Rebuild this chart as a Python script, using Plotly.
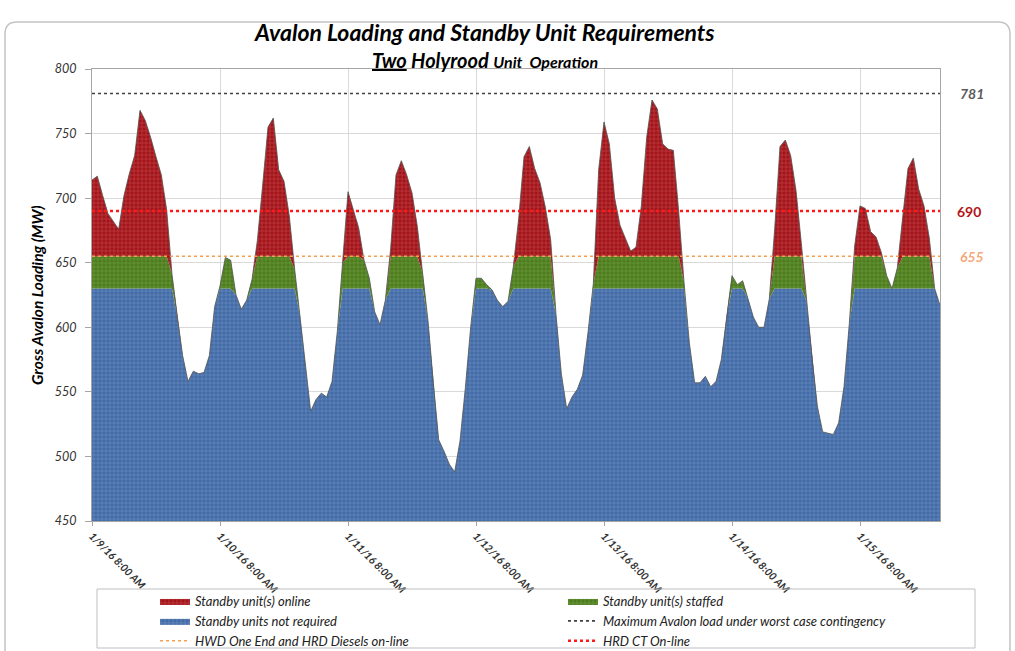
import pandas as pd
import plotly.graph_objects as go

# ---------------- data ----------------
start_time = "2016-01-09 08:00"
load_mw = [
    714, 717, 702, 688, 682, 676, 702, 719, 733, 768, 760, 747, 732, 718, 691, 641,
    608, 578, 558, 566, 564, 565, 578, 616, 632, 654, 652, 625, 614, 621, 637, 667,
    710, 755, 762, 722, 713, 686, 645, 609, 570, 535, 544, 549, 546, 558, 597, 650,
    705, 691, 677, 652, 638, 612, 602, 621, 661, 718, 729, 718, 704, 678, 642, 605,
    557, 513, 504, 494, 488, 512, 553, 600, 638, 638, 633, 629, 621, 616, 620, 647,
    684, 732, 740, 723, 712, 693, 668, 610, 564, 537, 546, 552, 563, 596, 634, 722,
    759, 742, 700, 679, 669, 659, 662, 694, 747, 776, 769, 742, 738, 737, 690, 635,
    588, 557, 557, 562, 554, 558, 575, 609, 640, 633, 636, 622, 608, 600, 600, 622,
    676, 740, 745, 733, 706, 665, 620, 577, 539, 519, 518, 517, 526, 554, 603, 663,
    694, 692, 674, 670, 658, 640, 630, 646, 685, 723, 731, 707, 694, 669, 630, 617,
]
not_required_limit = 630   # top of "standby units not required"
staffed_limit = 655        # top of "standby unit(s) staffed"
max_worst_case = 781
hrd_ct_online = 690
hwd_diesels_online = 655
y_ticks = [450, 500, 550, 600, 650, 700, 750, 800]

series_names = {
    "online": "Standby unit(s) online",
    "staffed": "Standby unit(s) staffed",
    "notreq": "Standby units not required",
    "max": "Maximum Avalon load under worst case contingency",
    "hwd": "HWD One End and HRD Diesels on-line",
    "hrd": "HRD CT On-line",
}

times = pd.date_range(start_time, periods=len(load_mw), freq="h")
blue_part = [min(v, not_required_limit) for v in load_mw]
green_part = [min(max(v - not_required_limit, 0), staffed_limit - not_required_limit) for v in load_mw]
red_part = [max(v - staffed_limit, 0) for v in load_mw]

# ---------------- layout helpers ----------------
W, H = 1015, 651
L, R, T, B = 92, 75, 69, 130
PW, PH = W - L - R, H - T - B


def px(xp):
    return (xp - L) / PW


def py(yp):
    return (H - B - yp) / PH


FONT = "Lato"
LEG_FONT = dict(family=FONT, size=13, style="italic", color="#222222")

fig = go.Figure()

fig.add_trace(go.Scatter(
    x=times, y=blue_part, stackgroup="load", mode="lines", line=dict(width=0),
    fillcolor="#4670aa",
    fillpattern=dict(shape="+", bgcolor="#436ba5", fgcolor="#8eabda", size=4, solidity=0.3),
    name=series_names["notreq"], legend="legend", legendrank=2, hoverinfo="skip",
))
fig.add_trace(go.Scatter(
    x=times, y=green_part, stackgroup="load", mode="lines", line=dict(width=0),
    fillcolor="#527f22",
    fillpattern=dict(shape="+", bgcolor="#4d7c1e", fgcolor="#8cb35a", size=4, solidity=0.3),
    name=series_names["staffed"], legend="legend2", legendrank=1, hoverinfo="skip",
))
fig.add_trace(go.Scatter(
    x=times, y=red_part, stackgroup="load", mode="lines", line=dict(width=0),
    fillcolor="#a8171c",
    fillpattern=dict(shape="+", bgcolor="#a3141a", fgcolor="#d86c6c", size=4, solidity=0.3),
    name=series_names["online"], legend="legend", legendrank=1, hoverinfo="skip",
))
fig.add_trace(go.Scatter(
    x=times, y=load_mw, mode="lines", line=dict(color="#505050", width=0.8),
    showlegend=False, hoverinfo="skip",
))
fig.add_trace(go.Scatter(
    x=[times[0], times[-1]], y=[max_worst_case] * 2, mode="lines",
    line=dict(color="#404040", width=1.6, dash="dot"),
    name=series_names["max"], legend="legend2", legendrank=2,
))
fig.add_trace(go.Scatter(
    x=[times[0], times[-1]], y=[hwd_diesels_online] * 2, mode="lines",
    line=dict(color="#f5a050", width=1.6, dash="dot"),
    name=series_names["hwd"], legend="legend", legendrank=3,
))
fig.add_trace(go.Scatter(
    x=[times[0], times[-1]], y=[hrd_ct_online] * 2, mode="lines",
    line=dict(color="#ff1a1a", width=2.4, dash="dot"),
    name=series_names["hrd"], legend="legend2", legendrank=3,
))

ann_common = dict(xref="paper", showarrow=False, xanchor="center", yanchor="middle")
annotations = [
    dict(text="<b><i>Avalon Loading and Standby Unit Requirements</i></b>",
         x=px(484), y=py(32), yref="paper",
         font=dict(family=FONT, size=23, color="#000000"), **ann_common),
    dict(text="<b><i><u>Two</u> Holyrood <span style='font-size:16px'>Unit  Operation</span></i></b>",
         x=px(485), y=py(60), yref="paper",
         font=dict(family=FONT, size=20, color="#000000"), **ann_common),
    dict(text="<b><i>Gross Avalon Loading (MW)</i></b>", textangle=-90,
         x=px(37), y=0.5, yref="paper",
         font=dict(family=FONT, size=15.5, color="#000000"), **ann_common),
    dict(text="<b><i>%d</i></b>" % max_worst_case, x=px(972), y=max_worst_case, yref="y",
         font=dict(family=FONT, size=14, color="#5a5a5a"), **ann_common),
    dict(text="<b>%d</b>" % hrd_ct_online, x=px(969), y=hrd_ct_online, yref="y",
         font=dict(family=FONT, size=14, color="#b5121b"), **ann_common),
    dict(text="<b><i>%d</i></b>" % hwd_diesels_online, x=px(972), y=hwd_diesels_online, yref="y",
         font=dict(family=FONT, size=14, color="#f4a77a"), **ann_common),
]


def rounded_border():
    r = 12
    x0, x1, y0, y1 = 5, 1010, 22, 680
    return (f"M {px(x0)},{py(y1)} L {px(x0)},{py(y0 + r)} "
            f"Q {px(x0)},{py(y0)} {px(x0 + r)},{py(y0)} "
            f"L {px(x1 - r)},{py(y0)} Q {px(x1)},{py(y0)} {px(x1)},{py(y0 + r)} "
            f"L {px(x1)},{py(y1)}")


shapes = [
    dict(type="path", path=rounded_border(), xref="paper", yref="paper",
         line=dict(color="#c4c4c4", width=1.5)),
    dict(type="rect", x0=px(97), x1=px(975), y0=py(648), y1=py(589),
         xref="paper", yref="paper", line=dict(color="#bfbfbf", width=1)),
]

legend_common = dict(
    orientation="v", xanchor="left", yanchor="top", traceorder="normal",
    font=LEG_FONT, bgcolor="rgba(0,0,0,0)", borderwidth=0, tracegroupgap=0,
)

fig.update_layout(
    width=W, height=H,
    margin=dict(l=L, r=R, t=T, b=B, autoexpand=False),
    paper_bgcolor="white", plot_bgcolor="white",
    font=dict(family=FONT, size=12, color="#222222"),
    annotations=annotations, shapes=shapes,
    showlegend=True,
    legend=dict(x=px(155), y=py(586), **legend_common),
    legend2=dict(x=px(563), y=py(586), **legend_common),
    hovermode=False,
)

fig.update_xaxes(
    type="date", range=[times[0], times[-1]],
    tick0=times[0], dtick=86400000, tickformat="%-m/%-d/%y %-I:%M %p",
    tickangle=45, ticks="outside", ticklen=4, tickcolor="#a6a6a6",
    tickfont=dict(family=FONT, size=10.5, color="#333333", style="italic", weight="bold"),
    showgrid=True, gridcolor="#d9d9d9", gridwidth=1,
    showline=True, linecolor="#a6a6a6", linewidth=1, mirror=True,
    zeroline=False, automargin=False,
)
fig.update_yaxes(
    range=[450, 800], tickvals=y_ticks,
    ticks="outside", ticklen=6, tickcolor="#a6a6a6", ticklabelstandoff=6,
    tickfont=dict(family=FONT, size=12.5, color="#333333", style="italic"),
    showgrid=True, gridcolor="#d9d9d9", gridwidth=1,
    showline=True, linecolor="#a6a6a6", linewidth=1, mirror=True,
    zeroline=False, automargin=False,
)

fig.write_html("out.html", config={"displayModeBar": False},
               post_script="document.body.style.margin='0';")
